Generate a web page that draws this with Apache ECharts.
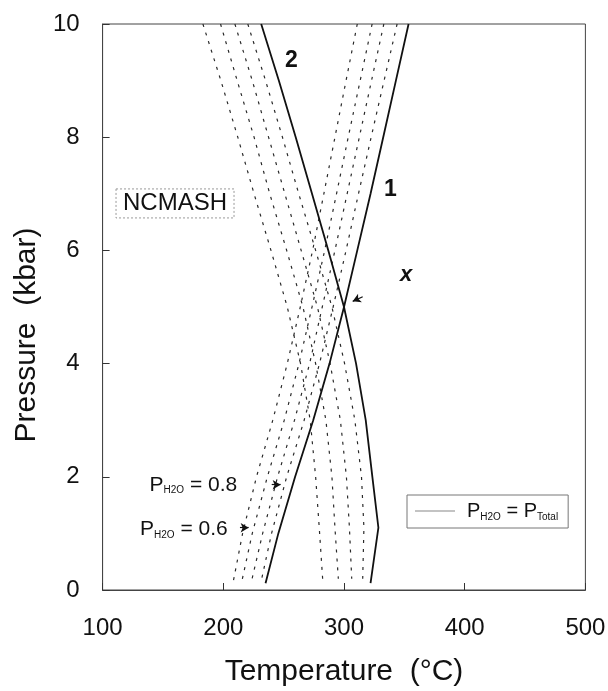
<!DOCTYPE html>
<html>
<head>
<meta charset="utf-8">
<script src="https://cdn.jsdelivr.net/npm/echarts@6/dist/echarts.min.js"></script>
<style>
html,body{margin:0;padding:0;background:#fff;}
#chart{width:608px;height:691px;}
</style>
</head>
<body>
<div id="chart"></div>
<script>
// Reaction 1 (positive slope)
const pressure1 = [10, 9, 8, 7, 6, 5, 4, 3, 2, 1, 0.12];
const temp1Total = [353.5, 343, 332.5, 322, 311, 300, 288, 274.5, 259.5, 245.6, 235];
const temp1_09 = [344, 333.2, 322.5, 312, 301.7, 291, 279.7, 267, 252.5, 240, 231];
const temp1_08 = [333, 322.8, 312.7, 302.6, 292.5, 282, 271.5, 259, 245, 232.6, 223];
const temp1_07 = [323.3, 313.4, 303.5, 293.8, 284, 273.5, 262.7, 250.5, 236.5, 224, 215];
const temp1_06 = [311, 301.7, 292.5, 283.3, 274, 263.8, 253, 241, 227.5, 216, 208];

// Reaction 2 (negative slope)
const pressure2Total = [10, 9, 8, 7, 6, 5, 4, 3, 2, 1.1, 0.12];
const temp2Total = [231.4, 246, 260, 273.5, 287, 300, 310, 318, 323.5, 328.5, 322];
const pressure2Dash = [10, 9, 8, 7, 6, 5, 4, 3, 2, 1.1, 0.2];
const temp2_09 = [220.3, 235, 249, 262.5, 276.5, 290, 300.5, 309, 314.5, 316.5, 315.5];
const temp2_08 = [209.6, 224, 237.5, 251, 264.5, 278, 288.5, 297, 302, 304.5, 306.4];
const temp2_07 = [197.7, 211.5, 225.5, 238.5, 252.5, 266, 276.5, 285, 290, 292.5, 295.3];
const temp2_06 = [183.1, 198, 212, 225.5, 239.5, 253, 264, 272, 276.5, 279.5, 282.3];

// Axis settings
const tempRange = [100, 500];
const pressureRange = [0, 10];

// Annotations in data coordinates [T, P]
const curveLabels = [
  { text: '2', T: 256.4, P: 9.35, font: 'bold 23px "Liberation Sans"' },
  { text: '1', T: 338.4, P: 7.07, font: 'bold 23px "Liberation Sans"' },
  { text: 'x', T: 351.4, P: 5.57, font: 'italic bold 22px "Liberation Sans"' }
];
const boxLabel = { text: 'NCMASH', T: 160, P: 6.83 };
const waterLabels = [
  { value: '0.8', T: 138.9, P: 1.86 },
  { value: '0.6', T: 131, P: 1.08 }
];
const arrows = [
  [[240.1, 1.86], [247.5, 1.86]],
  [[213.8, 1.1], [221, 1.1]],
  [[315.5, 5.18], [307.2, 5.1]]
];

const FONT = '"Liberation Sans", Arial, sans-serif';
const pairs = (ts, ps) => ts.map((t, i) => [t, ps[i]]);

const solidStyle = { color: '#111', width: 1.8 };
const dashStyle = { color: '#2a2a2a', width: 1.2, type: [3, 6] };

function solid(name, data) {
  return { type: 'line', name: name, data: data, symbol: 'none', silent: true,
           itemStyle: { color: '#111' }, lineStyle: solidStyle, z: 3, animation: false };
}
function dashed(name, data) {
  return { type: 'line', name: name, data: data, symbol: 'none', silent: true,
           itemStyle: { color: '#2a2a2a' }, lineStyle: dashStyle, z: 2, animation: false };
}

const chart = echarts.init(document.getElementById('chart'));
chart.setOption({
  animation: false,
  backgroundColor: '#fff',
  grid: { left: 102.6, right: 22.6, top: 24, bottom: 101, show: true,
          outerBoundsMode: 'none', containLabel: false,
          borderColor: '#444', borderWidth: 1, backgroundColor: 'transparent' },
  legend: {
    data: ['total'],
    left: 407, top: 495,
    icon: 'rect',
    itemWidth: 40, itemHeight: 1,
    itemStyle: { color: '#888' },
    padding: [6, 10, 6, 8],
    borderColor: '#777', borderWidth: 1,
    formatter: () => '{p|P}{s|H2O}{p| = P}{s|Total}',
    textStyle: {
      padding: [0, 0, 0, 7],
      rich: {
        p: { fontSize: 20, fontFamily: FONT, color: '#111', lineHeight: 22 },
        s: { fontSize: 10, fontFamily: FONT, color: '#111', lineHeight: 8, verticalAlign: 'bottom' }
      }
    },
    selectedMode: false
  },
  xAxis: {
    type: 'value', min: tempRange[0], max: tempRange[1], interval: 100,
    axisLine: { show: true, lineStyle: { color: '#444', width: 1 } },
    axisTick: { show: true, inside: true, length: 7, lineStyle: { color: '#333' } },
    axisLabel: { fontSize: 24, color: '#111', fontFamily: FONT, margin: 26 },
    splitLine: { show: false },
    name: 'Temperature  (°C)', nameLocation: 'middle', nameGap: 67,
    nameTextStyle: { fontSize: 30, color: '#111', fontFamily: FONT }
  },
  yAxis: {
    type: 'value', min: pressureRange[0], max: pressureRange[1], interval: 2,
    axisLine: { show: true, lineStyle: { color: '#444', width: 1 } },
    axisTick: { show: true, inside: true, length: 7, lineStyle: { color: '#333' } },
    axisLabel: { fontSize: 24, color: '#111', fontFamily: FONT, margin: 23 },
    splitLine: { show: false },
    name: 'Pressure  (kbar)', nameLocation: 'middle', nameGap: 57,
    nameTextStyle: { fontSize: 30, color: '#111', fontFamily: FONT, padding: [0, 56, 0, 0] }
  },
  series: [
    solid('total', pairs(temp1Total, pressure1)),
    dashed('r1_09', pairs(temp1_09, pressure1)),
    dashed('r1_08', pairs(temp1_08, pressure1)),
    dashed('r1_07', pairs(temp1_07, pressure1)),
    dashed('r1_06', pairs(temp1_06, pressure1)),
    solid('total', pairs(temp2Total, pressure2Total)),
    dashed('r2_09', pairs(temp2_09, pressure2Dash)),
    dashed('r2_08', pairs(temp2_08, pressure2Dash)),
    dashed('r2_07', pairs(temp2_07, pressure2Dash)),
    dashed('r2_06', pairs(temp2_06, pressure2Dash)),
    {
      type: 'line', name: 'arrows', data: [], symbol: 'none', silent: true,
      itemStyle: { color: '#111' },
      markLine: {
        silent: true, animation: false,
        symbol: ['none', 'arrow'], symbolSize: [7, 8],
        label: { show: false },
        lineStyle: { color: '#111', width: 1.2, type: 'solid' },
        data: arrows.map(a => [{ coord: a[0] }, { coord: a[1] }])
      }
    }
  ]
});

function px(T, P) { return chart.convertToPixel({ gridIndex: 0 }, [T, P]); }
const elements = [];
curveLabels.forEach(l => {
  const p = px(l.T, l.P);
  elements.push({ type: 'text', silent: true, z: 10,
    style: { text: l.text, x: p[0], y: p[1], font: l.font, fill: '#111', align: 'center', verticalAlign: 'middle' } });
});
{
  const p = px(boxLabel.T, boxLabel.P);
  elements.push({ type: 'text', silent: true, z: 10,
    style: { text: boxLabel.text, x: p[0], y: p[1], font: '24px ' + FONT, fill: '#111',
             align: 'center', verticalAlign: 'middle', padding: [3, 7, 2, 7],
             borderColor: '#999', borderWidth: 1, borderDash: [2, 2] } });
}
waterLabels.forEach(l => {
  const p = px(l.T, l.P);
  elements.push({ type: 'text', silent: true, z: 10,
    style: { text: '{p|P}{s|H2O}{p| = ' + l.value + '}', x: p[0], y: p[1], align: 'left', verticalAlign: 'middle',
      rich: {
        p: { fontSize: 21, fontFamily: FONT, fill: '#111', lineHeight: 22 },
        s: { fontSize: 10, fontFamily: FONT, fill: '#111', lineHeight: 8, verticalAlign: 'bottom' }
      } } });
});
chart.setOption({ graphic: { elements: elements } });
</script>
</body>
</html>
